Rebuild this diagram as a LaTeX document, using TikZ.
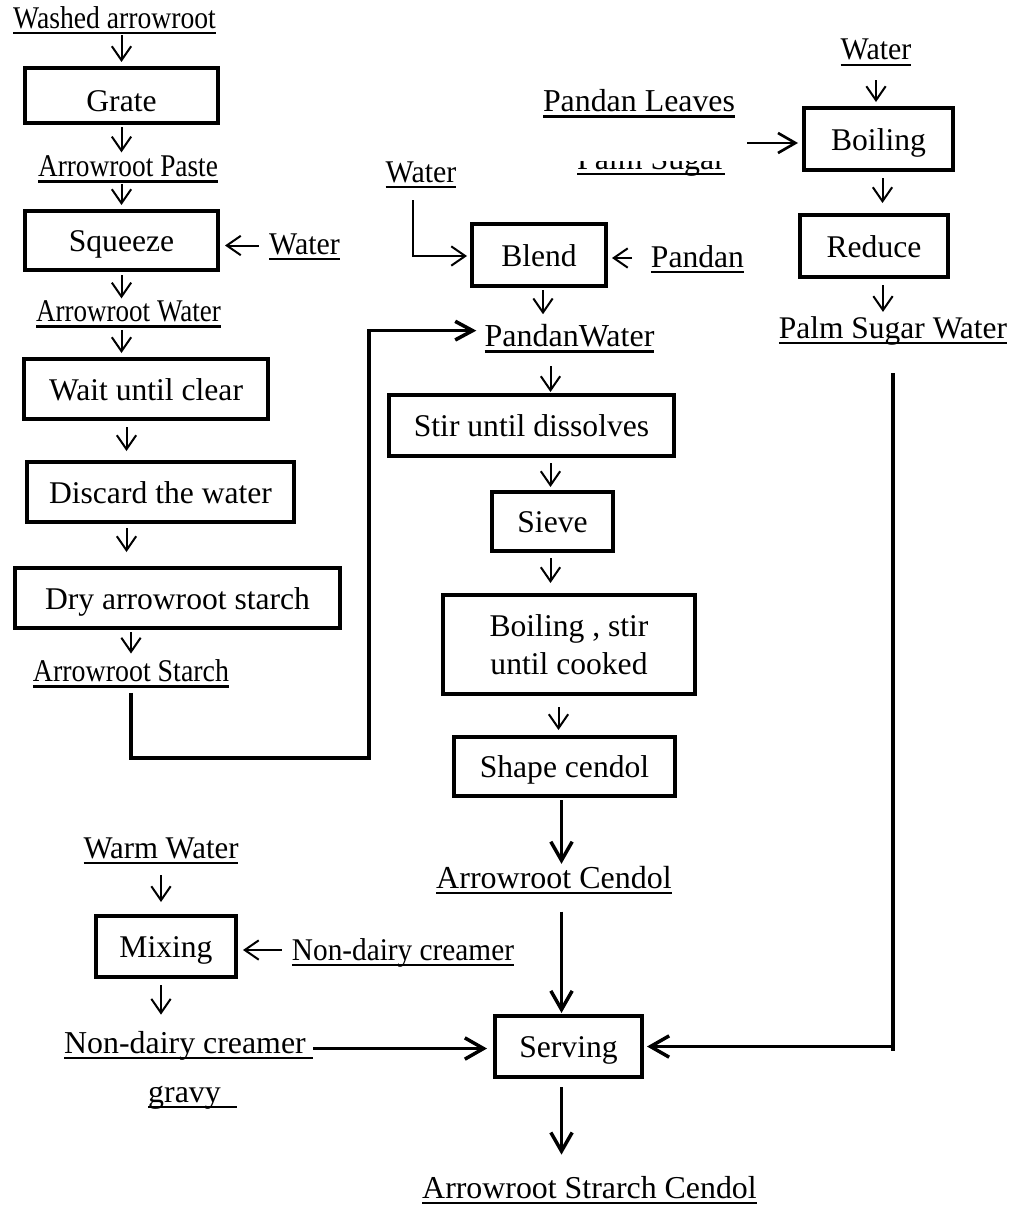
\documentclass[tikz,border=0pt]{standalone}
\usepackage{fontspec}
\usepackage{graphicx}
\setmainfont{Liberation Serif}
\usetikzlibrary{arrows.meta,calc}
\newcommand\undl[1]{\setbox0=\hbox{#1}\rlap{\rule[-0.19em]{\wd0}{0.075em}}\box0}
\newcommand\ulx[2]{\scalebox{#1}[1]{\undl{#2}}}
\begin{document}
\begin{tikzpicture}[x=0.75pt,y=-0.75pt,
  box/.style={draw, line width=2.7pt, inner sep=0pt, font=\fontsize{23.7}{28.5}\selectfont},
  one/.style={text height=17pt, text depth=0pt},
  wh/.style 2 args={minimum width=#1*0.75pt-2.7pt, minimum height=#2*0.75pt-2.7pt},
  lbl/.style={inner sep=0pt, anchor=base, font=\fontsize{#1}{#1}\selectfont},
  tarr/.style={line width=1.5pt, -{Straight Barb[length=10.5pt,width=14.5pt]}},
  karr/.style={line width=2.6pt, -{Straight Barb[length=14pt,width=16pt]}},
  marr/.style={line width=2.7pt, -{Straight Barb[length=13pt,width=14pt]}},
  parr/.style={line width=2pt, -{Straight Barb[length=13pt,width=15pt]}},
]
\fill[white] (0,0) rectangle (1016,1206);
\useasboundingbox (0,0) rectangle (1016,1206);

% left column
\node[lbl=23.7] (l1) at (114.5,28.3) {\ulx{0.875}{Washed arrowroot}};
\node[box,one,wh={197}{59},text height=23.7pt] (grate) at (121.5,95.5) {Grate};
\node[lbl=23.7] (l2) at (128,176.5) {\ulx{0.865}{Arrowroot Paste}};
\node[box,one,wh={197}{63}] (squeeze) at (121.5,240.5) {Squeeze};
\node[lbl=23.7] (w1) at (304.5,254) {\ulx{0.945}{Water}};
\node[lbl=23.7] (l3) at (128.5,321.5) {\ulx{0.856}{Arrowroot Water}};
\node[box,one,wh={248}{64}] (wait) at (146,389) {Wait until clear\hspace{6pt}};
\node[box,one,wh={271}{64}] (discard) at (160.5,492) {Discard the water};
\node[box,one,wh={329}{64}] (dry) at (177.5,598) {Dry arrowroot starch\hspace{14.25pt}};
\node[lbl=23.7] (l4) at (131,681.7) {\ulx{0.883}{Arrowroot Starch}};

% middle column
\node[lbl=23.7] (w2) at (421,182) {\ulx{0.945}{Water}};
\node[box,one,wh={138}{66}] (blend) at (539,255) {Blend\hspace{13.5pt}};
\node[lbl=23.7] (pandan) at (697.5,267) {\undl{Pandan}};
\node[lbl=24] (pw) at (569.5,346.7) {\undl{PandanWater}};
\node[box,one,wh={289}{65}] (stir) at (531.5,425.5) {Stir until dissolves\hspace{5.25pt}};
\node[box,one,wh={125}{63}] (sieve) at (552.5,521.5) {Sieve\hspace{7.5pt}};
\node[box,align=center,wh={256}{103}] (boil2) at (569,644.5) {Boiling , stir\\until cooked};
\node[box,one,wh={225}{63}] (shape) at (564.5,766.5) {Shape cendol\hspace{8.25pt}};
\node[lbl=24] (ac) at (554,888.3) {\undl{Arrowroot Cendol}};
\node[box,one,wh={151}{65}] (serving) at (568.5,1046.5) {Serving\hspace{5.25pt}};
\node[lbl=23.9] (final) at (589.5,1198) {\undl{Arrowroot Strarch Cendol}};

% bottom left
\node[lbl=23.7] (ww) at (161,858) {\ulx{0.975}{Warm Water}};
\node[box,one,wh={144}{65}] (mixing) at (166,946.5) {Mixing\hspace{3pt}};
\node[lbl=23.7] (ndc1) at (403,960) {\ulx{0.927}{Non-dairy creamer}};
\node[lbl=23.9] (ndc2) at (188.5,1053) {\undl{Non-dairy creamer\hspace{5.25pt}}};
\node[lbl=23.9] (gravy) at (192.5,1102) {\undl{gravy\hspace{12pt}}};

% right column
\node[lbl=23.7] (w3) at (876,60) {\ulx{0.945}{Water}};
\node[lbl=23.9] (pl) at (639,111.5) {\undl{Pandan Leaves}};
\begin{scope}
\clip (560,161) rectangle (745,190);
\node[lbl=23.9] (ps) at (651,169) {\undl{Palm Sugar}};
\end{scope}
\node[box,one,wh={153}{66}] (boil1) at (878.5,139) {Boiling\hspace{9.75pt}};
\node[box,one,wh={152}{66}] (reduce) at (874,246) {Reduce\hspace{9pt}};
\node[lbl=23.6] (psw) at (893,338) {\undl{Palm Sugar Water}};

% connectors, left column
\draw[tarr,shorten <=0.5pt,shorten >=3pt] (grate.north |- l1.south) -- (grate.north);
\draw[tarr,shorten <=1.5pt,shorten >=2.25pt] (grate.south) -- (grate.south |- l2.north);
\draw[tarr,shorten <=0.75pt,shorten >=3pt] (squeeze.north |- l2.south) -- (squeeze.north);
\draw[tarr,shorten <=7.5pt,shorten >=3.75pt] ($(w1.west |- squeeze.east)+(0,5)$) -- ($(squeeze.east)+(0,5)$);
\draw[tarr,shorten <=2.25pt,shorten >=1.5pt] (squeeze.south) -- (squeeze.south |- l3.north);
\draw[tarr,shorten <=1.5pt,shorten >=3pt] (squeeze.south |- l3.south) -- (squeeze.south |- wait.north);
\draw[tarr,shorten <=4.5pt,shorten >=6.75pt] ($(l3.south |- wait.south)+(-2,0)$) -- ($(l3.south |- discard.north)+(-2,0)$);
\draw[tarr,shorten <=3pt,shorten >=10.5pt] ($(l3.south |- discard.south)+(-2,0)$) -- ($(l3.south |- dry.north)+(-2,0)$);
\draw[tarr,shorten <=1.5pt,shorten >=4.5pt] (l4.north |- dry.south) -- (l4.north);
\coordinate (bend) at (369,758);
\draw[marr,shorten <=3.75pt,shorten >=6pt] (l4.south) |- (bend) |- ($(pw.west)+(0,-8)$);

% middle column
\draw[tarr,shorten <=9pt,shorten >=2.25pt] ($(w2.south)+(-8,0)$) |- ($(blend.west)+(0,1)$);
\draw[tarr,shorten <=14pt,shorten >=3pt] ($(pandan.west |- blend.east)+(0,3)$) -- ($(blend.east)+(0,3)$);
\draw[tarr,shorten <=1.5pt,shorten >=7.5pt] ($(blend.south)+(4,0)$) -- ($(blend.south |- pw.north)+(4,0)$);
\draw[tarr,shorten <=9.75pt,shorten >=0.75pt] ($(sieve.north |- pw.south)+(-2,0)$) -- ($(sieve.north |- stir.north)+(-2,0)$);
\draw[tarr,shorten <=3.75pt,shorten >=2.25pt] ($(sieve.north |- stir.south)+(-2,0)$) -- ($(sieve.north)+(-2,0)$);
\draw[tarr,shorten <=3.75pt,shorten >=7.5pt] ($(sieve.south)+(-2,0)$) -- ($(sieve.south |- boil2.north)+(-2,0)$);
\draw[tarr,shorten <=8.25pt,shorten >=3.75pt] ($(shape.north |- boil2.south)+(-6,0)$) -- ($(shape.north)+(-6,0)$);
\draw[karr,shorten <=1.5pt,shorten >=1.5pt] ($(shape.south)+(-3,0)$) -- ($(shape.south |- ac.north)+(-3,0)$);
\draw[karr,shorten <=12.75pt,shorten >=0.75pt] ($(shape.south |- ac.south)+(-3,0)$) -- ($(shape.south |- serving.north)+(-3,0)$);
\draw[karr,shorten <=6pt,shorten >=15.75pt] ($(shape.south |- serving.south)+(-3,0)$) -- ($(shape.south |- final.north)+(-3,0)$);

% bottom left
\draw[tarr,shorten <=8.25pt,shorten >=9pt] (ww.south) -- (ww.south |- mixing.north);
\draw[tarr,shorten <=7.5pt,shorten >=3.75pt] ($(ndc1.west |- mixing.east)+(0,3.5)$) -- ($(mixing.east)+(0,3.5)$);
\draw[tarr,shorten <=4.5pt,shorten >=12pt] (ww.south |- mixing.south) -- (ww.south |- ndc2.north);
\draw[karr,shorten >=4.5pt] ($(ndc2.east |- serving.west)+(0,2)$) -- ($(serving.west)+(0,2)$);

% right column
\draw[tarr,shorten <=10.5pt,shorten >=3pt] (w3.south) -- (w3.south |- boil1.north);
\draw[parr,shorten <=9pt,shorten >=3pt] ($(pl.east |- boil1.west)+(0,4)$) -- ($(boil1.west)+(0,4)$);
\draw[tarr,shorten <=4.5pt,shorten >=7.5pt] ($(boil1.south)+(4,0)$) -- ($(boil1.south |- reduce.north)+(4,0)$);
\draw[tarr,shorten <=4.5pt,shorten >=3pt] ($(reduce.south)+(9,0)$) -- ($(reduce.south |- psw.north)+(9,0)$);
\draw[line width=2.6pt,shorten <=21pt] (psw.south) -- ($(psw.south |- serving.east)+(0,4)$);
\draw[karr,shorten >=2.25pt] (psw.south |- serving.east) -- (serving.east);
\end{tikzpicture}
\end{document}
